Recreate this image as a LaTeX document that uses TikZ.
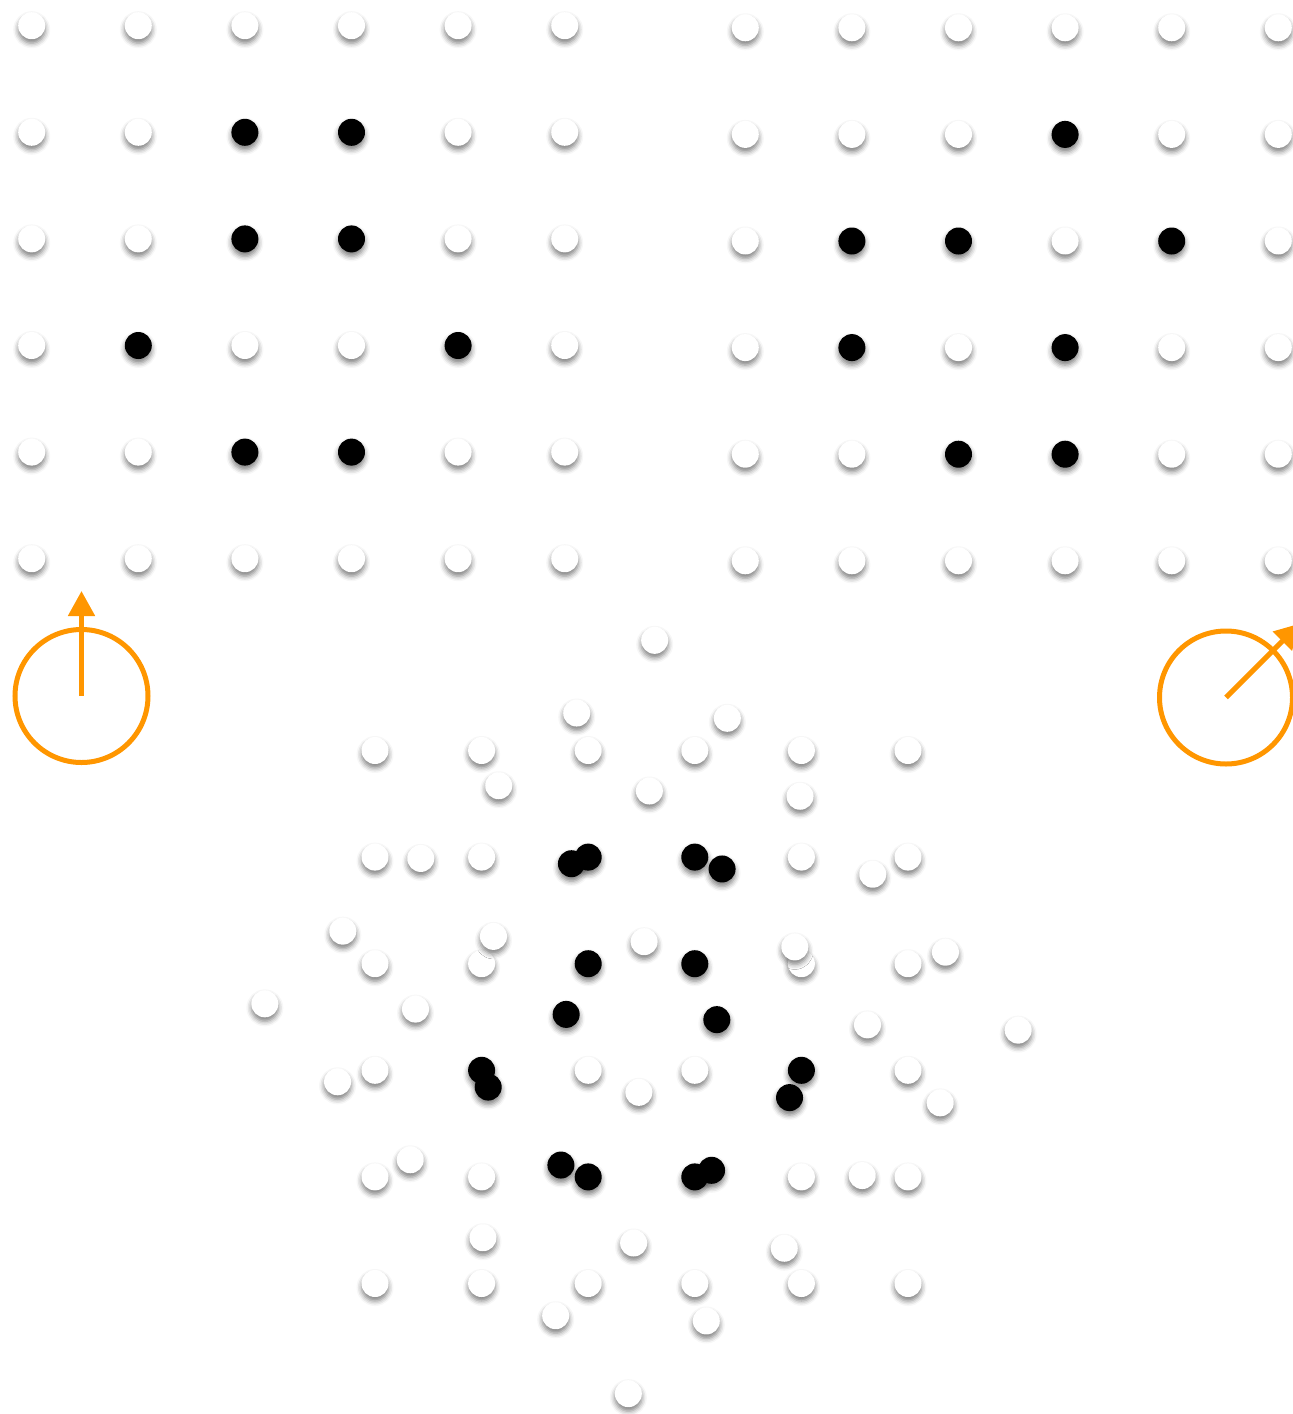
\documentclass[tikz,border=0pt]{standalone}
\usetikzlibrary{arrows.meta,shadows.blur}
\definecolor{dialorange}{RGB}{255,150,0}
\def\patA{0,0,0,0,0,0, 0,0,1,1,0,0, 0,0,1,1,0,0, 0,1,0,0,1,0, 0,0,1,1,0,0, 0,0,0,0,0,0}
\def\patB{0,0,0,0,0,0, 0,0,0,1,0,0, 0,1,1,0,1,0, 0,1,0,1,0,0, 0,0,1,1,0,0, 0,0,0,0,0,0}
\begin{document}
\begin{tikzpicture}[x=1pt,y=-1pt,
  dot/.style={circle, inner sep=0pt, minimum size=27pt,
    blur shadow={shadow xshift=0pt, shadow yshift=-4pt, shadow blur radius=5pt, shadow opacity=50}},
  dotw/.style={dot, fill=white},
  dotb/.style={dot, fill=black},
  dial/.style={circle, draw=dialorange, line width=5pt, inner sep=0pt, minimum size=133pt},
  needle/.style={draw=dialorange, line width=5pt, -{Triangle[length=25pt,width=26pt]}}]
\useasboundingbox (0,0) rectangle (1293,1414);
\clip (0,0) rectangle (1293,1414);
\foreach \c in {0,...,5} {
  \foreach \r in {0,...,5} {
    \pgfmathtruncatemacro\k{\r*6+\c}
    \pgfmathtruncatemacro\isa{{\patA}[\k]}
    \pgfmathtruncatemacro\isb{{\patB}[\k]}
    \ifnum\isa=1 \def\tonea{dotb}\else\def\tonea{dotw}\fi
    \ifnum\isb=1 \def\toneb{dotb}\else\def\toneb{dotw}\fi
    \node[\tonea] (a-\c-\r) at ({31.7+106.6*\c},{25.7+106.6*\r}) {};
    \node[\toneb] (b-\c-\r) at ({745.3+106.6*\c},{27.8+106.6*\r}) {};
    \node[\tonea] (p-\c-\r) at ({375+106.6*\c},{750.5+106.6*\r}) {};
  }
}
\begin{scope}[shift={(641.5,1017)}, rotate=43]
\foreach \c in {0,...,5} {
  \foreach \r in {0,...,5} {
    \pgfmathtruncatemacro\k{\r*6+\c}
    \pgfmathtruncatemacro\isb{{\patB}[\k]}
    \ifnum\isb=1 \def\toneb{dotb}\else\def\toneb{dotw}\fi
    \node[\toneb] (q-\c-\r) at ({106.6*(\c-2.5)},{106.6*(\r-2.5)}) {};
  }
}
\end{scope}
\node[dial] (dialA) at (81.5,696) {};
\node[dial] (dialB) at (1226,697.5) {};
\coordinate (tipA) at (81.5,591);
\coordinate (tipB) at (1300,623.5);
\draw[needle] (dialA.center) -- (tipA);
\draw[needle] (dialB.center) -- (tipB);
\end{tikzpicture}
\end{document}
